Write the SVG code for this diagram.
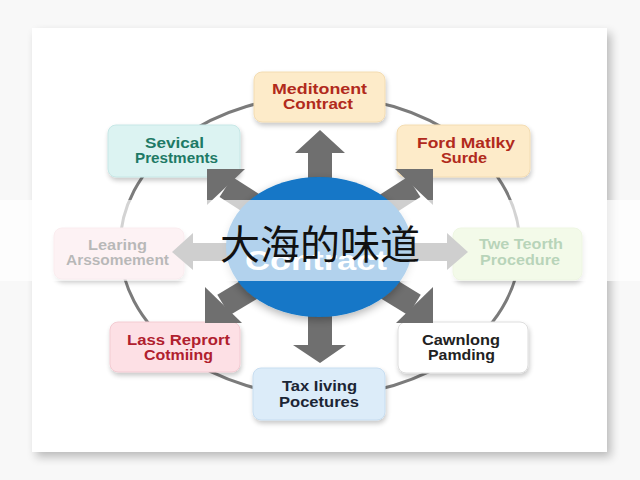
<svg xmlns="http://www.w3.org/2000/svg" width="640" height="480" viewBox="0 0 640 480">
  <defs>
    <filter id="cardShadow" x="-10%" y="-10%" width="125%" height="125%">
      <feGaussianBlur in="SourceAlpha" stdDeviation="5"/>
      <feOffset dx="4" dy="5" result="b"/>
      <feComponentTransfer><feFuncA type="linear" slope="0.25"/></feComponentTransfer>
      <feMerge><feMergeNode/><feMergeNode in="SourceGraphic"/></feMerge>
    </filter>
    <filter id="boxShadow" x="-20%" y="-30%" width="140%" height="170%">
      <feGaussianBlur in="SourceAlpha" stdDeviation="2.5"/>
      <feOffset dx="1" dy="3" result="b"/>
      <feComponentTransfer><feFuncA type="linear" slope="0.22"/></feComponentTransfer>
      <feMerge><feMergeNode/><feMergeNode in="SourceGraphic"/></feMerge>
    </filter>
    <filter id="circShadow" x="-20%" y="-20%" width="140%" height="150%">
      <feGaussianBlur in="SourceAlpha" stdDeviation="4"/>
      <feOffset dx="0" dy="3" result="b"/>
      <feComponentTransfer><feFuncA type="linear" slope="0.3"/></feComponentTransfer>
      <feMerge><feMergeNode/><feMergeNode in="SourceGraphic"/></feMerge>
    </filter>
  </defs>
  <style>
    .box { stroke-width: 1; filter: url(#boxShadow); }
    .lbl { font-family: "Liberation Sans", Arial, sans-serif; font-size: 14px; font-weight: bold; text-anchor: middle; }
    .arrow { fill: #6f6f6f; }
    .shaft { stroke: #6f6f6f; stroke-width: 24; fill: none; }
  </style>

  <rect x="0" y="0" width="640" height="480" fill="#f8f8f8"/>
  <rect x="32" y="28" width="575" height="424" fill="#ffffff" filter="url(#cardShadow)"/>

  <ellipse cx="320" cy="246" rx="200" ry="150" fill="none" stroke="#7b7b7b" stroke-width="3"/>

  <g id="node-meditonent">
    <rect class="box" x="254" y="72" width="131" height="50" rx="8" fill="#fdebc9" stroke="#f3dcb2"/>
    <text class="lbl" fill="#b12a1c" x="319.5" y="94" textLength="95" lengthAdjust="spacingAndGlyphs">Meditonent</text>
    <text class="lbl" fill="#b12a1c" x="318" y="109" textLength="70" lengthAdjust="spacingAndGlyphs">Contract</text>
  </g>
  <g id="node-sevical">
    <rect class="box" x="108" y="125" width="132" height="52" rx="8" fill="#dcf3f2" stroke="#c6e7e6"/>
    <text class="lbl" fill="#1e7a66" x="174.5" y="148" textLength="59" lengthAdjust="spacingAndGlyphs">Sevical</text>
    <text class="lbl" fill="#1e7a66" x="176.5" y="163" textLength="83" lengthAdjust="spacingAndGlyphs">Prestments</text>
  </g>
  <g id="node-ford">
    <rect class="box" x="397" y="125" width="133" height="52" rx="8" fill="#fdebc9" stroke="#f3dcb2"/>
    <text class="lbl" fill="#b12a1c" x="466" y="148" textLength="98" lengthAdjust="spacingAndGlyphs">Ford Matlky</text>
    <text class="lbl" fill="#b12a1c" x="464" y="163" textLength="46" lengthAdjust="spacingAndGlyphs">Surde</text>
  </g>
  <g id="node-learing">
    <rect class="box" x="54" y="228" width="130" height="51" rx="8" fill="#f8d7dd" stroke="#efc6ce"/>
    <text class="lbl" fill="#2a2a2a" font-weight="normal" x="117.5" y="250" textLength="59" lengthAdjust="spacingAndGlyphs">Learing</text>
    <text class="lbl" fill="#2a2a2a" font-weight="normal" x="117.5" y="265" textLength="103" lengthAdjust="spacingAndGlyphs">Arssomement</text>
  </g>
  <g id="node-twe">
    <rect class="box" x="453" y="228" width="129" height="52" rx="8" fill="#daefbc" stroke="#cbe4a8"/>
    <text class="lbl" fill="#287c2c" font-weight="normal" x="521" y="249" textLength="84" lengthAdjust="spacingAndGlyphs">Twe Teorth</text>
    <text class="lbl" fill="#287c2c" font-weight="normal" x="520" y="265" textLength="80" lengthAdjust="spacingAndGlyphs">Procedure</text>
  </g>
  <g id="node-lass">
    <rect class="box" x="110" y="322" width="130" height="50" rx="8" fill="#fde0e5" stroke="#f3cbd2"/>
    <text class="lbl" fill="#b0202e" x="178.5" y="345" textLength="103" lengthAdjust="spacingAndGlyphs">Lass Reprort</text>
    <text class="lbl" fill="#b0202e" x="178.5" y="360" textLength="69" lengthAdjust="spacingAndGlyphs">Cotmiing</text>
  </g>
  <g id="node-cawnlong">
    <rect class="box" x="398" y="322" width="130" height="51" rx="8" fill="#ffffff" stroke="#dddddd"/>
    <text class="lbl" fill="#222222" font-weight="normal" x="461" y="345" textLength="78" lengthAdjust="spacingAndGlyphs">Cawnlong</text>
    <text class="lbl" fill="#222222" font-weight="normal" x="461.5" y="360" textLength="67" lengthAdjust="spacingAndGlyphs">Pamding</text>
  </g>
  <g id="node-tax">
    <rect class="box" x="253" y="368" width="132" height="52" rx="8" fill="#dcecf9" stroke="#c7ddf0"/>
    <text class="lbl" fill="#1b2535" font-weight="normal" x="319.5" y="391" textLength="75" lengthAdjust="spacingAndGlyphs">Tax Iiving</text>
    <text class="lbl" fill="#1b2535" font-weight="normal" x="319" y="407" textLength="80" lengthAdjust="spacingAndGlyphs">Pocetures</text>
  </g>

  <g id="connectors">
    <polygon class="arrow" points="308,250 308,153 295,153 320,130 345,153 332,153 332,250"/>
    <polygon class="arrow" points="308,250 308,345 293,345 320,363 346,345 332,345 332,250"/>
    <polygon class="arrow" points="320,243 193,243 193,233 172,252 193,270 193,261 320,261"/>
    <polygon class="arrow" points="320,243 447,243 447,233 468,252 447,270 447,261 320,261"/>
    <path class="shaft" d="M226,187 L320,247"/>
    <polygon class="arrow" points="207,169 245,169 207,205"/>
    <path class="shaft" d="M414,187 L320,247"/>
    <polygon class="arrow" points="433,169 395,169 433,205"/>
    <path class="shaft" d="M223.5,305 L320,247"/>
    <polygon class="arrow" points="205,323 205,287 242,323"/>
    <path class="shaft" d="M414.5,305 L320,247"/>
    <polygon class="arrow" points="433,323 433,287 396,323"/>
  </g>

  <g id="node-center">
    <ellipse cx="319" cy="247" rx="93" ry="70" fill="#1377c7" filter="url(#circShadow)"/>
    <text x="316" y="270" fill="#ffffff" font-family="Liberation Sans, Arial, sans-serif" font-size="28" font-weight="bold" text-anchor="middle" textLength="142" lengthAdjust="spacingAndGlyphs">Contract</text>
  </g>

  <rect x="0" y="200" width="640" height="81" fill="#ffffff" fill-opacity="0.67"/>
  <text x="320" y="259" fill="#111111" font-family="Noto Sans CJK SC, sans-serif" font-size="40" text-anchor="middle">大海的味道</text>
</svg>
